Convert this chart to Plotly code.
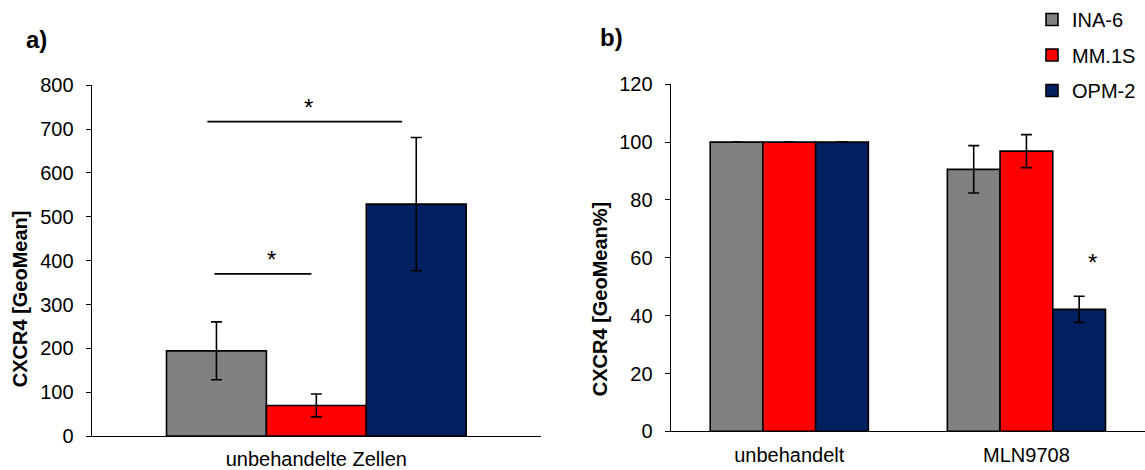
import plotly.graph_objects as go

# ---------------- data ----------------
series = ["INA-6", "MM.1S", "OPM-2"]
colors = ["#808080", "#FF0000", "#002060"]

cat_a = ["unbehandelte Zellen"]
vals_a = [[194.5], [70], [529]]
err_a = [[66], [26], [152]]

cat_b = ["unbehandelt", "MLN9708"]
vals_b = [[100, 90.6], [100, 96.9], [100, 42.2]]
err_b = [[0, 8.2], [0, 5.7], [0, 4.5]]

yticks_a = [0, 100, 200, 300, 400, 500, 600, 700, 800]
yticks_b = [0, 20, 40, 60, 80, 100, 120]

# significance brackets (x in category units, y in data units)
sig_a = [
    {"x0": -0.227, "x1": -0.011, "y": 370, "star_x": -0.099, "star_y": 403},
    {"x0": -0.2425, "x1": 0.191, "y": 717, "star_x": -0.017, "star_y": 750},
]
sig_b = [{"star_x": 1.277, "star_y": 58.5}]

FONT = "Arial, Liberation Sans, sans-serif"

fig = go.Figure()

for i, s in enumerate(series):
    fig.add_trace(go.Bar(
        x=cat_a, y=vals_a[i], name=s, marker_color=colors[i],
        marker_line=dict(color="black", width=1.6),
        error_y=dict(type="data", array=err_a[i], color="black", thickness=1.6, width=5.5),
        xaxis="x", yaxis="y", showlegend=False, legendgroup=s,
    ))

for i, s in enumerate(series):
    fig.add_trace(go.Bar(
        x=cat_b, y=vals_b[i], name=s, marker_color=colors[i],
        marker_line=dict(color="black", width=1.6),
        error_y=dict(type="data", array=err_b[i], color="black", thickness=1.6, width=5.5),
        xaxis="x2", yaxis="y2", showlegend=True, legendgroup=s,
    ))

W, H = 1145, 470

def px_x(p):
    return p / W

def px_y(p):
    return (H - p) / H

axis_common = dict(showgrid=False, zeroline=False, showline=True, linecolor="black",
                   linewidth=1.3, tickfont=dict(family=FONT, size=20, color="black"))

fig.update_layout(
    width=W, height=H, margin=dict(l=0, r=0, t=0, b=0),
    paper_bgcolor="white", plot_bgcolor="white",
    barmode="group", bargap=0.333, bargroupgap=0,
    font=dict(family=FONT, size=20, color="black"),
    xaxis=dict(domain=[px_x(91.7), px_x(541)], range=[-0.5, 0.5], anchor="y",
               ticks="", ticklabelstandoff=5, **axis_common),
    yaxis=dict(domain=[px_y(446), px_y(77)], range=[0, 800], anchor="x",
               tickvals=yticks_a, ticks="outside", ticklen=5, tickwidth=1.3,
               tickcolor="black", ticklabelstandoff=8, **axis_common),
    xaxis2=dict(domain=[px_x(670.7), 1.0], range=[-0.5, 1.5], anchor="y2",
                ticks="", ticklabelstandoff=5, **axis_common),
    yaxis2=dict(domain=[px_y(441), px_y(76)], range=[0, 120], anchor="x2",
                tickvals=yticks_b, ticks="outside", ticklen=5, tickwidth=1.3,
                tickcolor="black", ticklabelstandoff=8, **axis_common),
    legend=dict(x=px_x(1032), y=px_y(-13), xanchor="left", yanchor="top",
                font=dict(family=FONT, size=20, color="black"),
                tracegroupgap=6.5, itemwidth=30, bgcolor="rgba(0,0,0,0)"),
)

shapes = []
annotations = []
for s in sig_a:
    shapes.append(dict(type="line", xref="x", yref="y", x0=s["x0"], x1=s["x1"],
                       y0=s["y"], y1=s["y"], line=dict(color="black", width=1.6)))
    annotations.append(dict(xref="x", yref="y", x=s["star_x"], y=s["star_y"], text="*",
                            xanchor="center", yanchor="middle",
                            showarrow=False, font=dict(family=FONT, size=24, color="black")))
for s in sig_b:
    annotations.append(dict(xref="x2", yref="y2", x=s["star_x"], y=s["star_y"], text="*",
                            xanchor="center", yanchor="middle",
                            showarrow=False, font=dict(family=FONT, size=24, color="black")))

annotations += [
    dict(xref="paper", yref="paper", x=px_x(36.5), y=px_y(29), text="<b>a)</b>",
         xanchor="center", yanchor="middle",
         showarrow=False, font=dict(family=FONT, size=24, color="black")),
    dict(xref="paper", yref="paper", x=px_x(611), y=px_y(27), text="<b>b)</b>",
         xanchor="center", yanchor="middle",
         showarrow=False, font=dict(family=FONT, size=24, color="black")),
    dict(xref="paper", yref="paper", x=px_x(20), y=px_y(302), text="<b>CXCR4 [GeoMean]</b>",
         xanchor="center", yanchor="middle",
         textangle=-90, showarrow=False, font=dict(family=FONT, size=20, color="black")),
    dict(xref="paper", yref="paper", x=px_x(600), y=px_y(302), text="<b>CXCR4 [GeoMean%]</b>",
         xanchor="center", yanchor="middle",
         textangle=-90, showarrow=False, font=dict(family=FONT, size=20, color="black")),
]

fig.update_layout(shapes=shapes, annotations=annotations)

fig.write_html("out.html")
